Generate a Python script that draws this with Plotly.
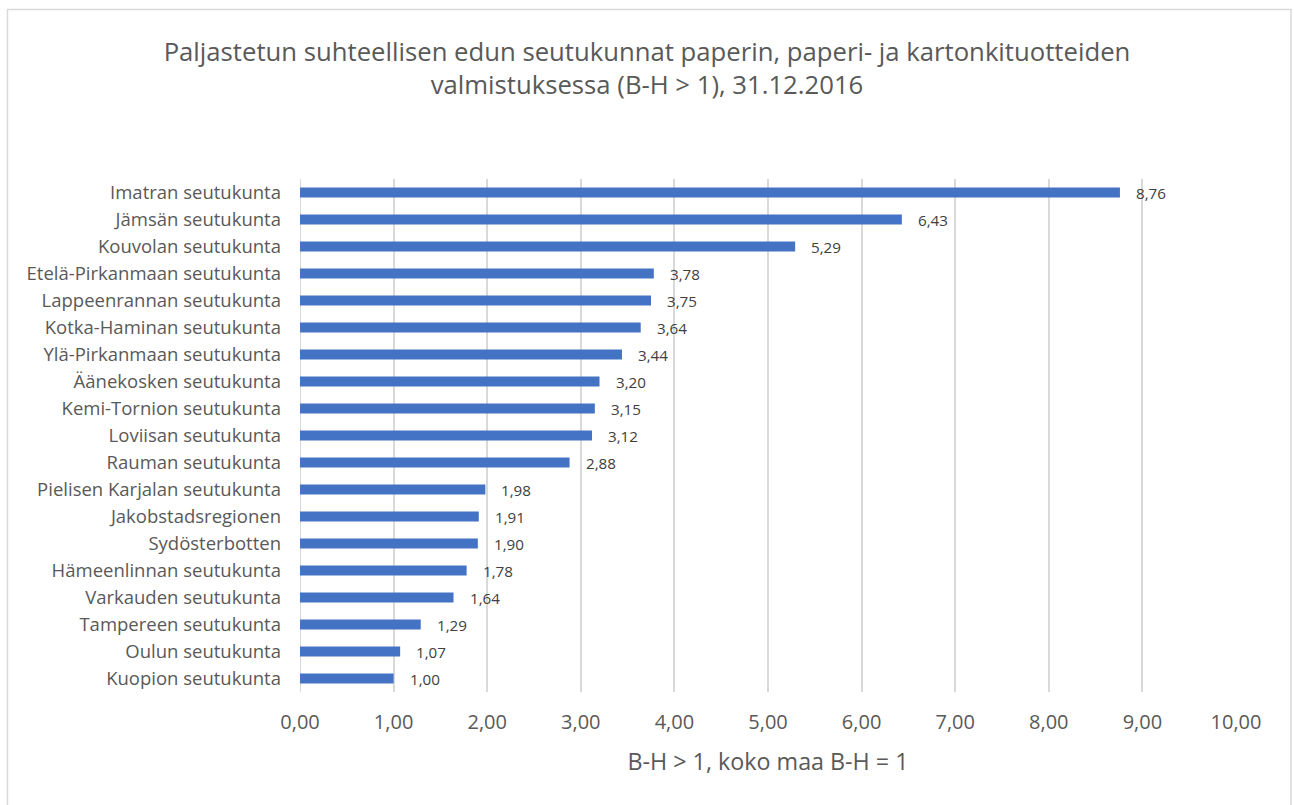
import plotly.graph_objects as go

categories = ["Imatran seutukunta", "Jämsän seutukunta", "Kouvolan seutukunta",
              "Etelä-Pirkanmaan seutukunta", "Lappeenrannan seutukunta",
              "Kotka-Haminan seutukunta", "Ylä-Pirkanmaan seutukunta",
              "Äänekosken seutukunta", "Kemi-Tornion seutukunta", "Loviisan seutukunta",
              "Rauman seutukunta", "Pielisen Karjalan seutukunta", "Jakobstadsregionen",
              "Sydösterbotten", "Hämeenlinnan seutukunta", "Varkauden seutukunta",
              "Tampereen seutukunta", "Oulun seutukunta", "Kuopion seutukunta"]
values = [8.76, 6.43, 5.29, 3.78, 3.75, 3.64, 3.44, 3.20, 3.15, 3.12, 2.88,
          1.98, 1.91, 1.90, 1.78, 1.64, 1.29, 1.07, 1.00]
title_text = ("Paljastetun suhteellisen edun seutukunnat paperin, paperi- ja kartonkituotteiden"
              "<br>valmistuksessa (B-H > 1), 31.12.2016")
x_title = "B-H > 1, koko maa B-H = 1"

FONT = "Open Sans"
W, H = 1294, 805
L, R, T, B = 300, 58, 179, 113
pw, ph = W - L - R, H - T - B


def px_to_paper_x(px):
    return (px - L) / pw


def px_to_paper_y(py):
    return (H - B - py) / ph


fig = go.Figure()
fig.add_trace(go.Bar(
    x=values, y=categories, orientation="h",
    marker=dict(color="#4472C4", line=dict(width=0)),
    width=0.37,
    hoverinfo="x+y",
))

for c, v in zip(categories, values):
    fig.add_annotation(x=v, y=c, text=f"{v:.2f}".replace(".", ","),
                       showarrow=False, xanchor="left", xshift=14,
                       font=dict(family=FONT, size=15.2, color="#404040"))

# chart border
fig.add_shape(type="rect", xref="paper", yref="paper",
              x0=px_to_paper_x(7.5), x1=px_to_paper_x(1291),
              y0=px_to_paper_y(815), y1=px_to_paper_y(9.5),
              line=dict(color="#d9d9d9", width=1.5), fillcolor="rgba(0,0,0,0)")

fig.update_layout(
    width=W, height=H,
    margin=dict(l=L, r=R, t=T, b=B),
    paper_bgcolor="white", plot_bgcolor="white",
    separators=", ",
    showlegend=False,
    title=dict(text=title_text, x=0.5, xref="container", xanchor="center",
               y=1 - 61 / H, yref="container", yanchor="top",
               font=dict(family=FONT, size=25.7, color="#595959")),
    xaxis=dict(range=[0, 10], dtick=1, tickformat=".2f",
               showgrid=True, gridcolor="#d9d9d9", gridwidth=2,
               zeroline=False, showline=False, ticks="",
               ticklabelstandoff=16,
               tickfont=dict(family=FONT, size=20, color="#595959"),
               title=dict(text=x_title, standoff=19,
                          font=dict(family=FONT, size=23.3, color="#595959"))),
    yaxis=dict(autorange="reversed", showgrid=False, zeroline=False, showline=False,
               ticks="", ticklabelstandoff=18,
               tickfont=dict(family=FONT, size=18.5, color="#595959")),
)
fig.add_vline(x=0, line=dict(color="#d9d9d9", width=2), layer="below")

fig.write_html("out.html", config={"displayModeBar": False},
               post_script="document.body.style.margin='0';")
